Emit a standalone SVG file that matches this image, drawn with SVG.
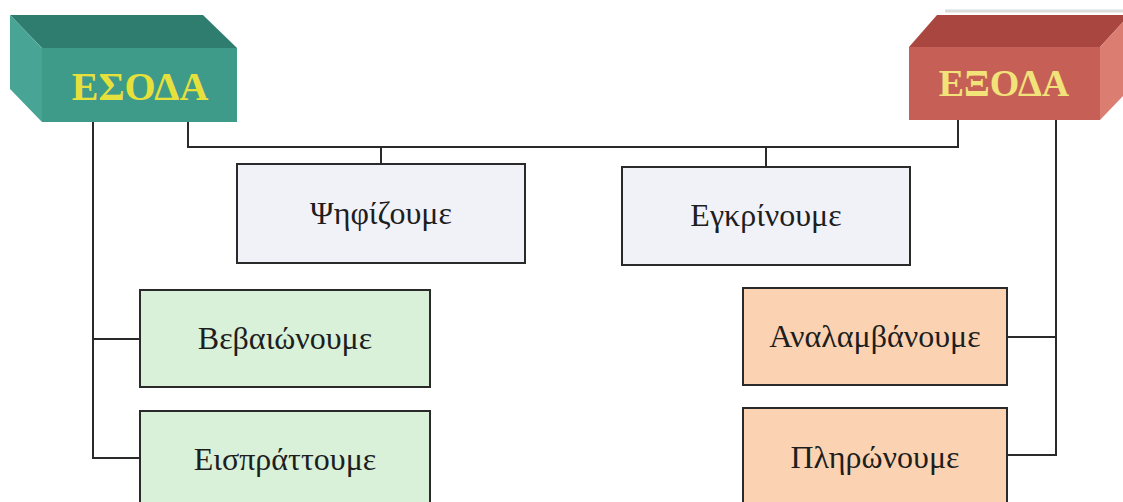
<svg xmlns="http://www.w3.org/2000/svg" width="1123" height="502" viewBox="0 0 1123 502">
<style>
.box{stroke:#2a2a2a;stroke-width:2}
.lbl{font-family:"Liberation Serif","DejaVu Serif",serif;font-size:32px;fill:#1e1e1e;text-anchor:middle}
.head{font-family:"Liberation Serif","DejaVu Serif",serif;font-weight:bold;text-anchor:middle}
.con{stroke:#2a2a2a;stroke-width:2;fill:none}
</style>
<rect width="1123" height="502" fill="#ffffff"/>
<line x1="945" y1="11" x2="1123" y2="11" stroke="#dcdcdc" stroke-width="3"/>
<g id="connectors">
<path class="con" d="M93 122 V458 H140 M93 339 H140"/>
<path class="con" d="M188 122 V147 H958 V120 M381 147 V164 M766 147 V167"/>
<path class="con" d="M1056 120 V455 H1007 M1056 337 H1007"/>
</g>
<g id="esoda">
<polygon points="10,15 203,15 237,48 42,48" fill="#2f7d6e"/>
<polygon points="10,15 42,48 42,122 10,89" fill="#48a595"/>
<rect x="42" y="48" width="195" height="74" fill="#3e9a89"/>
<text class="head" x="140" y="100" font-size="40" fill="#e6e03c">ΕΣΟΔΑ</text>
</g>
<g id="exoda">
<polygon points="937,15 1123,15 1123,22 1100,47 909,47" fill="#a9463f"/>
<polygon points="1100,47 1123,22 1123,96 1100,120" fill="#dc7d72"/>
<rect x="909" y="47" width="191" height="73" fill="#c65f56"/>
<text class="head" x="1004" y="96" font-size="38" fill="#f2e27a">ΕΞΟΔΑ</text>
</g>
<g id="psifizoume">
<rect class="box" x="237" y="164" width="288" height="99" fill="#f1f2f8"/>
<text class="lbl" x="381" y="224">Ψηφίζουμε</text>
</g>
<g id="egkrinoume">
<rect class="box" x="622" y="167" width="288" height="98" fill="#f1f2f8"/>
<text class="lbl" x="766" y="226">Εγκρίνουμε</text>
</g>
<g id="vevaionoume">
<rect class="box" x="140" y="290" width="290" height="97" fill="#d9f0d9"/>
<text class="lbl" x="285" y="349">Βεβαιώνουμε</text>
</g>
<g id="eispratoume">
<rect class="box" x="140" y="411" width="290" height="100" fill="#d9f0d9"/>
<text class="lbl" x="285" y="470">Εισπράττουμε</text>
</g>
<g id="analamvanoume">
<rect class="box" x="743" y="288" width="264" height="97" fill="#fbd3b2"/>
<text class="lbl" x="875" y="347">Αναλαμβάνουμε</text>
</g>
<g id="plironoume">
<rect class="box" x="743" y="408" width="264" height="100" fill="#fbd3b2"/>
<text class="lbl" x="875" y="468">Πληρώνουμε</text>
</g>
</svg>
